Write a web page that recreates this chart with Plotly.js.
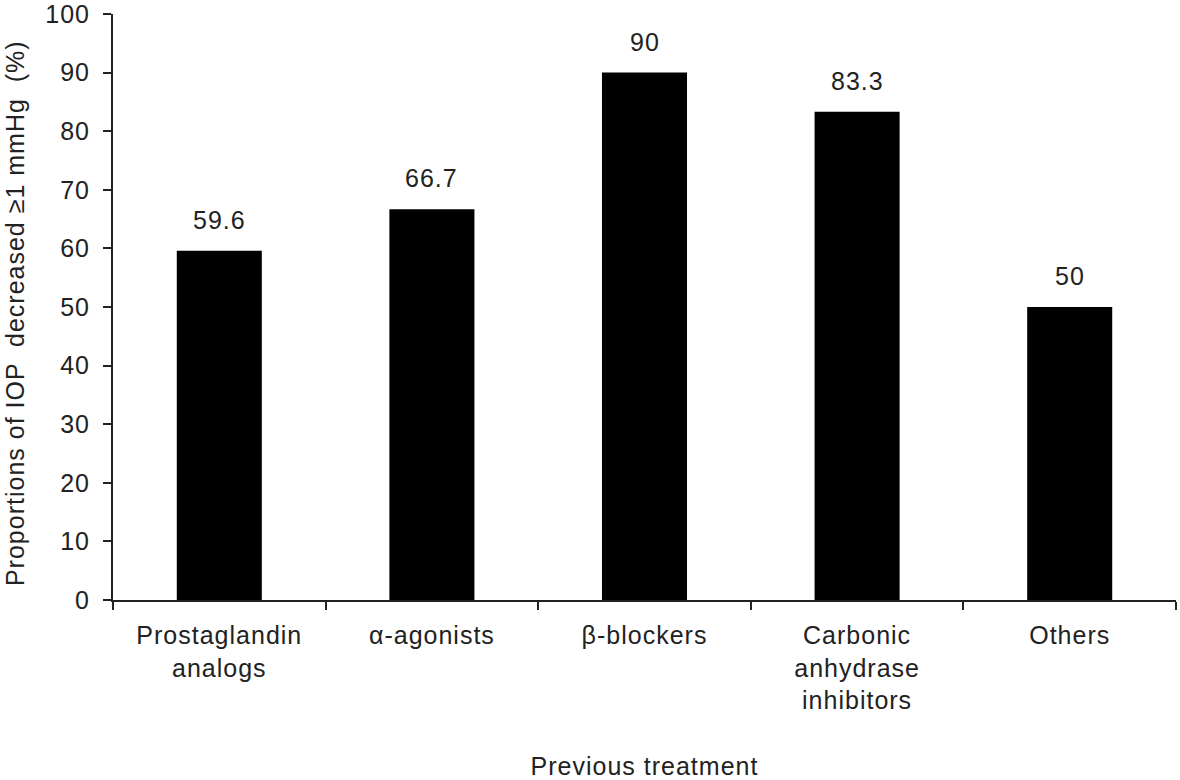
<!DOCTYPE html>
<html>
<head>
<meta charset="utf-8">
<script src="https://cdn.plot.ly/plotly-3.0.1.min.js"></script>
<style>html,body{margin:0;padding:0;background:#fff;}#chart{width:1180px;height:780px;} svg text{letter-spacing:1px;}</style>
</head>
<body>
<div id="chart"></div>
<script>
const categories = ["Prostaglandin<br>analogs", "α-agonists", "β-blockers", "Carbonic<br>anhydrase<br>inhibitors", "Others"];
const values = [59.6, 66.7, 90, 83.3, 50];
const valueLabels = ["59.6", "66.7", "90", "83.3", "50"];
const yTicks = [0, 10, 20, 30, 40, 50, 60, 70, 80, 90, 100];
const xTitle = "Previous treatment";
const yTitle = "Proportions of IOP  decreased ≥1 mmHg  (%)";

const FONT = "Liberation Sans, Arial, sans-serif";
const FS = 25;

const trace = {
  type: "bar",
  x: categories,
  y: values,
  marker: {color: "#000000", line: {width: 0}},
  width: 0.4,
  hoverinfo: "x+y"
};

const annotations = categories.map((c, i) => ({
  x: c, y: values[i], xref: "x", yref: "y",
  text: valueLabels[i], showarrow: false,
  yanchor: "bottom", yshift: 15,
  font: {family: FONT, size: FS, color: "#222"}
}));
annotations.push({
  xref: "paper", yref: "paper", x: -0.092, y: 0.49,
  xanchor: "center", yanchor: "middle", textangle: -90,
  text: yTitle, showarrow: false,
  font: {family: FONT, size: FS, color: "#222"}
});

const layout = {
  width: 1180, height: 780,
  margin: {l: 113, r: 4, t: 14, b: 180, autoexpand: false},
  paper_bgcolor: "#fff", plot_bgcolor: "#fff",
  font: {family: FONT, size: FS, color: "#222"},
  showlegend: false,
  bargap: 0.6,
  xaxis: {
    type: "category",
    showline: true, linecolor: "#222", linewidth: 2,
    ticks: "outside", tickson: "boundaries", ticklen: 8, tickwidth: 2, tickcolor: "#222",
    ticklabelstandoff: 12,
    showgrid: false, zeroline: false,
    tickfont: {family: FONT, size: FS, color: "#222"},
    title: {text: xTitle, font: {family: FONT, size: FS, color: "#222"}, standoff: 44},
    automargin: false
  },
  yaxis: {
    range: [0, 100],
    tickvals: yTicks, ticktext: yTicks.map(String),
    showline: true, linecolor: "#222", linewidth: 2,
    ticks: "outside", ticklen: 8, tickwidth: 2, tickcolor: "#222",
    ticklabelstandoff: 8,
    ticklabeloverflow: "allow",
    showgrid: false, zeroline: false,
    tickfont: {family: FONT, size: FS, color: "#222"},
    automargin: false
  },
  annotations: annotations
};

Plotly.newPlot("chart", [trace], layout, {displayModeBar: false, staticPlot: true});
</script>
</body>
</html>
